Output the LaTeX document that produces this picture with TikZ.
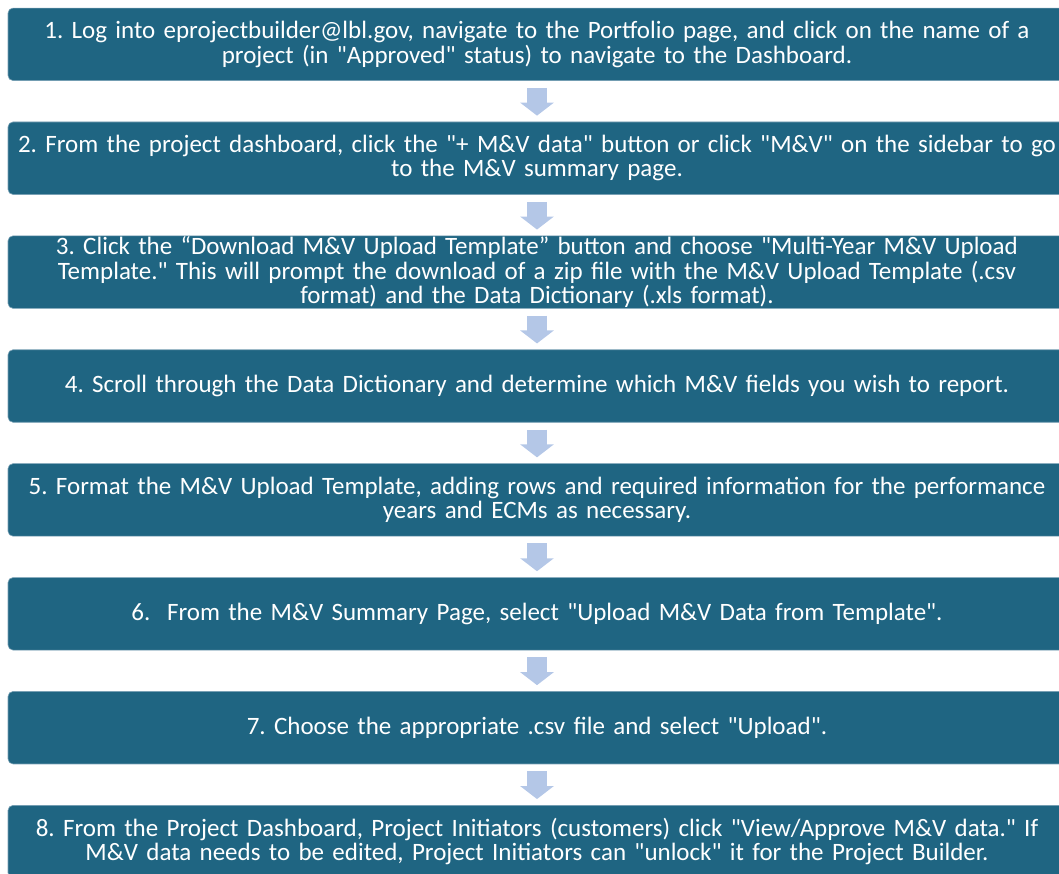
\documentclass[tikz,border=0pt]{standalone}
\usepackage{fontspec}
\setmainfont{Carlito}[Ligatures=TeXOff]
\usetikzlibrary{arrows.meta}

\definecolor{stepfill}{RGB}{31,101,130}
\definecolor{stepline}{RGB}{120,160,180}
\definecolor{arrowfill}{RGB}{180,199,231}

\tikzset{
  stepbox/.style={rectangle, rounded corners=5pt, fill=stepfill, draw=stepline, line width=0.6pt,
    minimum width=1058pt, minimum height=72.5pt, text width=1056pt, align=center, inner sep=0pt,
    text=white, font=\fontsize{25}{24.5}\selectfont\frenchspacing},
  downarrow/.style={arrowfill, line width=20pt, shorten <=7pt, shorten >=6pt,
    -{Triangle[width=33pt, length=13pt]}}
}

\begin{document}
\begin{tikzpicture}[x=1pt, y=1pt]
	\useasboundingbox (0,0) rectangle (1059,-873);
	\clip (0,0) rectangle (1059,-873);
	% the eight steps, top to bottom
	\node[stepbox] (step1) at (537,-44.3) {1. Log into eprojectbuilder@lbl.gov, navigate to the Portfolio page, and click on the name of a\\ project (in "Approved" status) to navigate to the Dashboard.};
	\node[stepbox] (step2) at (537,-158.2) {2. From the project dashboard, click the "+ M\&V data" button or click "M\&V" on the sidebar to go\\ to the M\&V summary page.};
	\node[stepbox] (step3) at (537,-272.1) {3. Click the “Download M\&V Upload Template” button and choose "Multi-Year M\&V Upload\\ Template." This will prompt the download of a zip file with the M\&V Upload Template (.csv\\ format) and the Data Dictionary (.xls format).};
	\node[stepbox] (step4) at (537,-386) {4. Scroll through the Data Dictionary and determine which M\&V fields you wish to report.};
	\node[stepbox] (step5) at (537,-499.9) {5. Format the M\&V Upload Template, adding rows and required information for the performance\\ years and ECMs as necessary.};
	\node[stepbox] (step6) at (537,-613.8) {6.\ \ From the M\&V Summary Page, select "Upload M\&V Data from Template".};
	\node[stepbox] (step7) at (537,-727.7) {7. Choose the appropriate .csv file and select "Upload".};
	\node[stepbox] (step8) at (537,-841.6) {8. From the Project Dashboard, Project Initiators (customers) click "View/Approve M\&V data." If\\ M\&V data needs to be edited, Project Initiators can "unlock" it for the Project Builder.};
	% block arrows between the steps
	\draw[downarrow] (step1) -- (step2);
	\draw[downarrow] (step2) -- (step3);
	\draw[downarrow] (step3) -- (step4);
	\draw[downarrow] (step4) -- (step5);
	\draw[downarrow] (step5) -- (step6);
	\draw[downarrow] (step6) -- (step7);
	\draw[downarrow] (step7) -- (step8);
\end{tikzpicture}
\end{document}
